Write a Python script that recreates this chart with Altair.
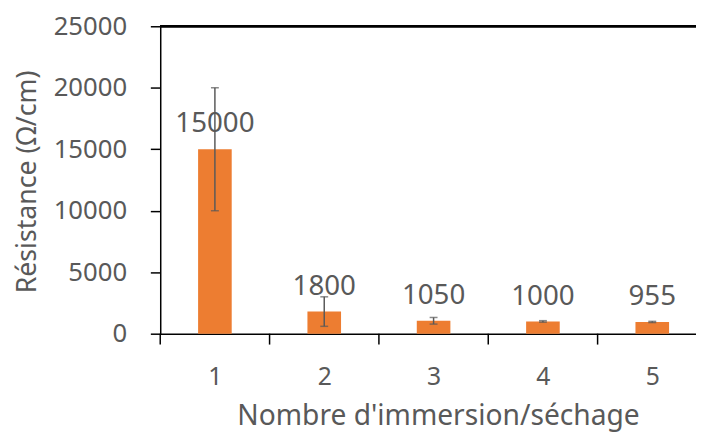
import altair as alt
import pandas as pd

categories = [1, 2, 3, 4, 5]
values = [15000, 1800, 1050, 1000, 955]
errors = [5000, 1200, 270, 60, 50]
labels = ["15000", "1800", "1050", "1000", "955"]
boundaries = [0.5, 1.5, 2.5, 3.5, 4.5]

df = pd.DataFrame({
    "n": categories,
    "v": values,
    "lo": [v - e for v, e in zip(values, errors)],
    "hi": [v + e for v, e in zip(values, errors)],
    "label": labels,
})
df_b = pd.DataFrame({"b": boundaries})

FONT = "Noto Sans"
GREY = "#595959"
ORANGE = "#ED7D31"
W, H = 542, 311
X_DOMAIN = [0.5, 5.4]

x_scale = alt.Scale(domain=X_DOMAIN, nice=False, zero=False, padding=0)

x_enc = alt.X(
    "n:Q",
    scale=x_scale,
    axis=alt.Axis(
        title="Nombre d'immersion/séchage",
        values=categories,
        format="d",
        labelFlush=False,
        labelOverlap=False,
        labelAngle=0,
        labelFont=FONT,
        labelFontSize=25,
        labelColor=GREY,
        labelPadding=31,
        ticks=False,
        grid=False,
        domainColor="black",
        domainWidth=1.5,
        titleFont=FONT,
        titleFontSize=28.5,
        titleFontWeight="normal",
        titleColor=GREY,
        titleX=281,
        titleY=92,
        titleBaseline="alphabetic",
        titleAlign="center",
    ),
)

y_enc = alt.Y(
    "v:Q",
    scale=alt.Scale(domain=[0, 25000], nice=False, padding=0),
    axis=alt.Axis(
        title="Résistance (Ω/cm)",
        values=[0, 5000, 10000, 15000, 20000, 25000],
        format="d",
        grid=False,
        tickSize=10,
        tickColor="black",
        tickWidth=1.5,
        domainColor="black",
        domainWidth=1.5,
        labelFont=FONT,
        labelFontSize=26,
        labelColor=GREY,
        labelPadding=24,
        titleFont=FONT,
        titleFontSize=27,
        titleFontWeight="normal",
        titleColor=GREY,
        titleX=-134,
        titleY=157,
        titleBaseline="middle",
        titleAlign="center",
    ),
)

base = alt.Chart(df)

bars = base.mark_bar(color=ORANGE, size=34).encode(x=x_enc, y=y_enc)

err = base.mark_rule(color=GREY, strokeWidth=1.5).encode(
    x=alt.X("n:Q"), y=alt.Y("lo:Q"), y2="hi:Q"
)
cap_lo = base.mark_tick(color=GREY, size=8, thickness=1.5, orient="horizontal").encode(
    x=alt.X("n:Q"), y=alt.Y("lo:Q")
)
cap_hi = base.mark_tick(color=GREY, size=8, thickness=1.5, orient="horizontal").encode(
    x=alt.X("n:Q"), y=alt.Y("hi:Q")
)

text = base.mark_text(
    dy=-17, baseline="alphabetic", font=FONT, fontSize=28, color=GREY
).encode(x=alt.X("n:Q"), y=alt.Y("v:Q"), text="label:N")

x_ticks = alt.Chart(df_b).mark_rule(color="black", strokeWidth=1.5).encode(
    x=alt.X("b:Q"), y=alt.value(H), y2=alt.value(H + 11)
)

top_line = base.mark_rule(color="black", strokeWidth=2).encode(y=alt.value(0))

chart = (
    alt.layer(bars, err, cap_lo, cap_hi, text, x_ticks, top_line)
    .properties(
        width=W,
        height=H,
        autosize=alt.AutoSizeParams(type="none"),
        padding={"left": 154, "top": 16, "right": 0, "bottom": 101},
    )
    .configure_view(stroke=None)
)

chart.save("out.html", embed_options={"renderer": "svg", "actions": False})
